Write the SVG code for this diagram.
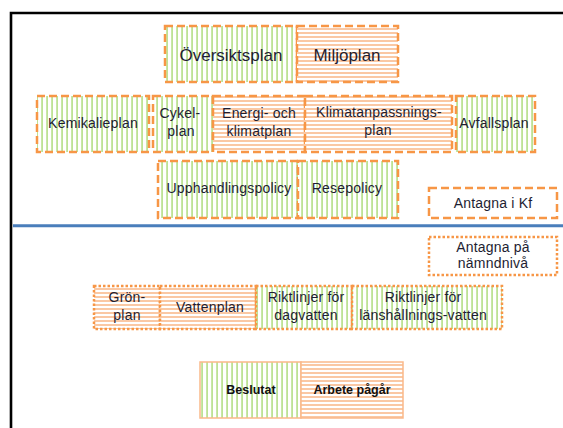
<svg xmlns="http://www.w3.org/2000/svg" width="563" height="428" viewBox="0 0 563 428">
<defs>
<pattern id="green" patternUnits="userSpaceOnUse" width="5" height="5">
<rect x="0" y="0" width="5" height="5" fill="#ffffff"/>
<rect x="1.5" y="0" width="1.1" height="5" fill="#92D050"/>
</pattern>
<pattern id="orange" patternUnits="userSpaceOnUse" width="4" height="4">
<rect x="0" y="0" width="4" height="4" fill="#ffffff"/>
<rect x="0" y="0" width="4" height="2" fill="#FAC8A4"/>
</pattern>
</defs>
<style>
.g{fill:url(#green)}
.o{fill:url(#orange)}
.w{fill:#ffffff}
.dash{stroke:#F79646;stroke-width:2.5;stroke-dasharray:8 4}
.dot{stroke:#F79646;stroke-width:2.5;stroke-dasharray:2.5 2}
.solid{stroke:#FAB98A;stroke-width:1.5}
text{font-family:"Liberation Sans",Arial,sans-serif;fill:#1E1E32;text-anchor:middle}
.big{font-size:17px}
.t{font-size:14px;letter-spacing:0.2px}
.b{font-size:12.5px;font-weight:bold;fill:#111111}
</style>
<rect x="0" y="0" width="563" height="428" fill="#ffffff"/>
<g id="frame">
<path d="M11 428 V13 H563" fill="none" stroke="#000000" stroke-width="2.6"/>
<line x1="13" y1="225.7" x2="563" y2="225.7" stroke="#4A7EBB" stroke-width="3"/>
</g>
<g id="oversiktsplan"><rect x="165" y="26" width="132" height="56" class="g dash"/><text class="big" x="231" y="61">Översiktsplan</text></g>
<g id="miljoplan"><rect x="297" y="26" width="101" height="56" class="o dash"/><text class="big" x="347" y="61">Miljöplan</text></g>
<g id="kemikalieplan"><rect x="37" y="96" width="112" height="56" class="g dash"/><text class="t" x="93" y="128">Kemikalieplan</text></g>
<g id="cykelplan"><rect x="153" y="96" width="60" height="56" class="g dash"/><text class="t" x="180" y="118">Cykel-</text><text class="t" x="181" y="136">plan</text></g>
<g id="energiklimatplan"><rect x="213" y="96" width="92" height="56" class="o dash"/><text class="t" x="259" y="118">Energi- och</text><text class="t" x="259" y="136">klimatplan</text></g>
<g id="klimatanpassningsplan"><rect x="305" y="96" width="147" height="56" class="o dash"/><text class="t" x="379" y="117">Klimatanpassnings-</text><text class="t" x="378" y="135">plan</text></g>
<g id="avfallsplan"><rect x="456" y="96" width="79" height="56" class="g dash"/><text class="t" x="494" y="128">Avfallsplan</text></g>
<g id="upphandlingspolicy"><rect x="158" y="161" width="140" height="57" class="g dash"/><text class="t" x="229" y="193">Upphandlingspolicy</text></g>
<g id="resepolicy"><rect x="298" y="161" width="100" height="57" class="g dash"/><text class="t" x="347" y="193">Resepolicy</text></g>
<g id="antagna-kf"><rect x="429" y="188" width="128" height="30" class="w dash"/><text class="t" x="493" y="208">Antagna i Kf</text></g>
<g id="antagna-namnd"><rect x="429" y="237" width="128" height="38" class="w dot"/><text class="t" x="493" y="252">Antagna på</text><text class="t" x="493" y="268">nämndnivå</text></g>
<g id="gronplan"><rect x="94" y="286" width="66" height="43" class="o dot"/><text class="t" x="127" y="302">Grön-</text><text class="t" x="127" y="320">plan</text></g>
<g id="vattenplan"><rect x="160" y="286" width="96" height="43" class="o dot"/><text class="t" x="210" y="312">Vattenplan</text></g>
<g id="riktlinjer-dagvatten"><rect x="256" y="286" width="96" height="43" class="g dot"/><text class="t" x="306" y="302">Riktlinjer för</text><text class="t" x="306" y="320">dagvatten</text></g>
<g id="riktlinjer-lanshallning"><rect x="352" y="286" width="150" height="43" class="g dot"/><text class="t" x="423" y="302">Riktlinjer för</text><text class="t" x="423" y="320">länshållnings-vatten</text></g>
<g id="beslutat"><rect x="200" y="362" width="101" height="56" class="g solid"/><text class="b" x="251" y="394">Beslutat</text></g>
<g id="arbete"><rect x="301" y="362" width="102" height="56" class="o solid"/><text class="b" x="352" y="394">Arbete pågår</text></g>
</svg>
